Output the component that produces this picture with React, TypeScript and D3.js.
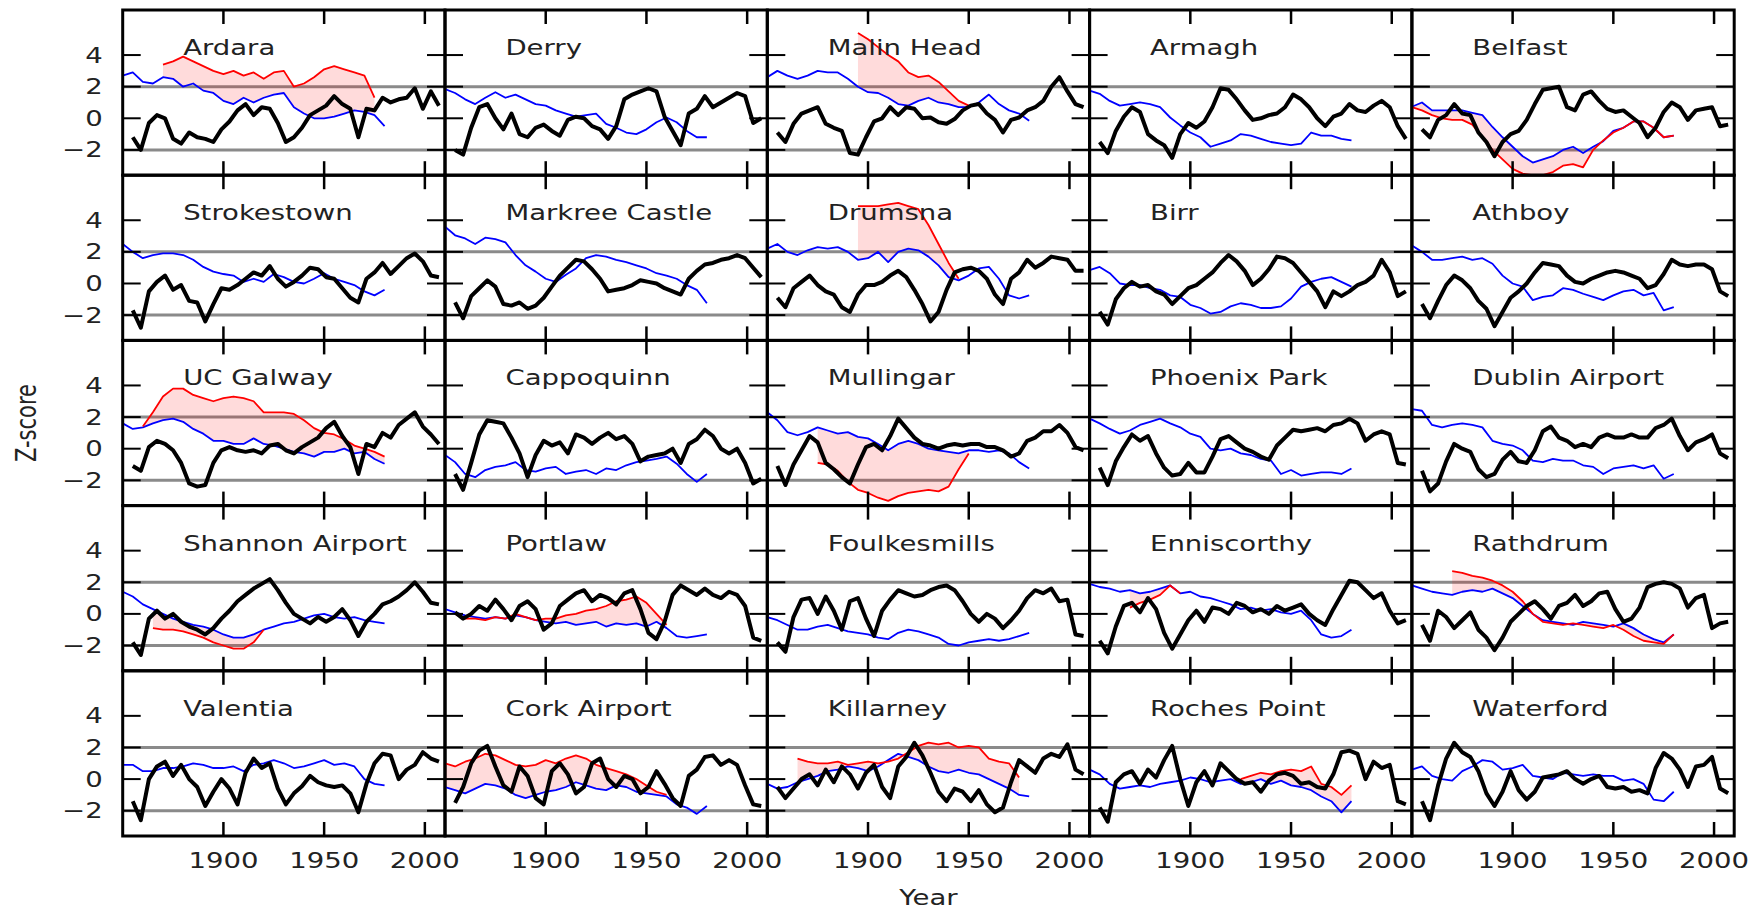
import React from "react";
import * as d3 from "d3";

// ---- layout constants ----
const W = 322.3;
const H = 165.2;
const X0 = 122.7;
const Y0 = 10;
const SX = 1.31; // horizontal text stretch seen in the reference
const FONT = "DejaVu Sans, sans-serif";

// ---- axes ----
const X_DOMAIN = [1850, 2010];
const Y_DOMAIN = [-3.6, 6.85];
const X_TICKS = [1900, 1950, 2000];
const Y_TICKS = [4, 2, 0, -2];
const GRID_LEVELS = [2, -2];

// ---- series sampling ----
const BLACK_START = 1855;
const BLACK_STEP = 4;
const BLUE_START = 1850;
const BLUE_STEP = 5;
const RED_STEP = 5;

// ---- data ----
const ardaraBlack = [-1.2, -2.0, -0.3, 0.2, 0.0, -1.3, -1.6, -0.9, -1.2, -1.3, -1.5, -0.7, -0.2, 0.5, 0.9, 0.2, 0.7, 0.6, -0.3, -1.5, -1.2, -0.6, 0.2, 0.5, 0.8, 1.4, 0.9, 0.6, -1.2, 0.6, 0.5, 1.3, 1.0, 1.2, 1.3, 1.9, 0.6, 1.7, 0.8];
const ardaraBlue = [2.7, 2.9, 2.3, 2.2, 2.6, 2.5, 2.0, 2.2, 1.75, 1.6, 1.1, 0.9, 1.3, 1.0, 1.3, 1.5, 1.6, 0.7, 0.3, 0.0, 0.0, 0.1, 0.3, 0.5, 0.4, 0.2, -0.5];
const ardaraRed = [3.4, 3.6, 3.9, 3.6, 3.3, 3.0, 2.8, 3.0, 2.7, 2.9, 2.5, 2.9, 3.0, 2.0, 2.2, 2.6, 3.1, 3.3, 3.1, 2.9, 2.7, 1.3];
const ardaraRedStart = 1870;

const derryBlack = [-2.0, -2.3, -0.6, 0.7, 0.9, 0.0, -0.7, 0.3, -1.0, -1.2, -0.6, -0.4, -0.8, -1.1, -0.1, 0.1, 0.0, -0.5, -0.7, -1.3, -0.5, 1.2, 1.5, 1.7, 1.9, 1.7, 0.1, -0.8, -1.7, 0.3, 0.6, 1.4, 0.7, 1.0, 1.3, 1.6, 1.4, -0.3, 0.0];
const derryBlue = [1.85, 1.6, 1.2, 0.9, 1.3, 1.65, 1.3, 1.5, 1.2, 0.9, 0.8, 0.5, 0.3, 0.1, 0.2, 0.3, -0.35, -0.6, -0.9, -1.0, -0.7, -0.25, 0.05, -0.25, -0.8, -1.2, -1.2];

const malinBlack = [-0.9, -1.5, -0.35, 0.3, 0.5, 0.7, -0.35, -0.6, -0.8, -2.2, -2.3, -1.2, -0.2, 0.0, 0.7, 0.2, 0.7, 0.6, 0.0, 0.05, -0.25, -0.35, -0.05, 0.5, 0.8, 0.9, 0.3, -0.1, -0.9, -0.1, 0.05, 0.5, 0.7, 1.1, 2.0, 2.6, 1.7, 0.9, 0.7];
const malinBlue = [2.6, 3.0, 2.7, 2.5, 2.7, 3.0, 2.9, 2.9, 2.5, 2.0, 1.65, 1.6, 1.3, 0.9, 0.8, 1.1, 1.3, 1.0, 0.9, 0.7, 0.7, 1.0, 1.5, 0.9, 0.5, 0.3, -0.15];
const malinRed = [5.4, 5.0, 4.5, 4.0, 3.6, 2.9, 2.6, 2.7, 2.3, 1.7, 1.1, 0.8];
const malinRedStart = 1895;

const armaghBlack = [-1.5, -2.2, -0.8, 0.1, 0.7, 0.4, -1.0, -1.4, -1.7, -2.5, -1.0, -0.3, -0.6, -0.2, 0.7, 1.9, 1.8, 1.2, 0.5, -0.1, 0.0, 0.2, 0.3, 0.7, 1.5, 1.2, 0.7, 0.0, -0.5, 0.1, 0.3, 0.9, 0.5, 0.4, 0.8, 1.1, 0.7, -0.5, -1.3];
const armaghBlue = [1.75, 1.55, 1.1, 0.8, 0.9, 1.0, 0.9, 0.7, 0.05, -0.45, -0.9, -1.2, -1.8, -1.6, -1.4, -1.0, -1.1, -1.3, -1.5, -1.6, -1.7, -1.6, -0.9, -1.1, -1.1, -1.3, -1.4];

const belfastBlack = [-0.7, -1.2, -0.1, 0.2, 0.9, 0.3, 0.2, -0.9, -1.5, -2.4, -1.5, -1.0, -0.8, -0.1, 0.9, 1.8, 1.9, 2.0, 0.7, 0.5, 1.5, 1.7, 1.1, 0.6, 0.4, 0.5, 0.1, -0.3, -1.2, -0.6, 0.4, 1.0, 0.7, -0.1, 0.5, 0.6, 0.7, -0.5, -0.4];
const belfastBlue = [0.73, 1.0, 0.5, 0.5, 0.5, 0.5, 0.35, 0.2, -0.55, -1.2, -1.8, -2.4, -2.8, -2.6, -2.4, -2.0, -1.8, -2.2, -1.8, -1.45, -0.8, -0.6, -0.2, -0.2, -0.6, -1.2, -1.1];
const belfastRed = [0.7, 0.5, 0.2, 0.0, -0.1, -0.1, -0.4, -1.2, -2.0, -2.6, -3.2, -3.5, -3.6, -3.6, -3.4, -3.0, -2.9, -3.1, -2.0, -1.4, -0.9, -0.6, -0.2, -0.2, -0.6, -1.2, -1.1];
const belfastRedStart = 1850;

const strokestownBlack = [-1.7, -2.8, -0.5, 0.1, 0.5, -0.4, -0.1, -1.1, -1.2, -2.4, -1.3, -0.3, -0.4, -0.1, 0.3, 0.7, 0.5, 1.1, 0.3, -0.2, 0.1, 0.5, 1.0, 0.9, 0.4, 0.3, -0.3, -0.9, -1.2, 0.3, 0.7, 1.3, 0.6, 1.1, 1.6, 1.9, 1.4, 0.5, 0.4];
const strokestownBlue = [2.5, 2.0, 1.6, 1.8, 1.9, 1.9, 1.8, 1.5, 1.05, 0.75, 0.6, 0.5, 0.1, 0.3, 0.1, 0.6, 0.4, 0.1, 0.0, 0.3, 0.65, 0.3, 0.1, -0.1, -0.5, -0.75, -0.4];

const markreeBlack = [-1.2, -2.2, -0.8, -0.3, 0.2, -0.2, -1.3, -1.4, -1.2, -1.6, -1.4, -0.9, -0.2, 0.5, 1.0, 1.5, 1.4, 0.9, 0.3, -0.5, -0.4, -0.3, -0.1, 0.2, 0.1, 0.0, -0.3, -0.5, -0.7, 0.3, 0.8, 1.2, 1.3, 1.5, 1.6, 1.8, 1.6, 1.0, 0.4];
const markreeBlue = [3.6, 3.05, 2.85, 2.5, 2.9, 2.8, 2.6, 1.8, 1.15, 0.75, 0.3, 0.1, 0.55, 0.95, 1.6, 1.8, 1.7, 1.5, 1.35, 1.15, 0.95, 0.65, 0.5, 0.3, -0.1, -0.4, -1.25];

const drumsnaBlack = [-0.9, -1.5, -0.3, 0.1, 0.5, -0.1, -0.5, -0.7, -1.5, -1.8, -0.7, -0.1, -0.1, 0.1, 0.5, 0.8, 0.4, -0.4, -1.3, -2.4, -1.8, -0.4, 0.7, 0.9, 1.0, 0.8, 0.3, -0.7, -1.3, 0.3, 0.7, 1.5, 1.0, 1.3, 1.7, 1.6, 1.5, 0.8, 0.8];
const drumsnaBlue = [2.2, 2.5, 2.0, 1.8, 2.1, 2.3, 2.2, 2.3, 2.0, 1.5, 1.6, 2.0, 1.35, 2.0, 2.2, 2.1, 1.7, 1.15, 0.4, 0.2, 0.5, 0.95, 1.05, 0.3, -0.75, -0.95, -0.75];
const drumsnaRed = [4.9, 4.9, 4.9, 5.0, 5.1, 4.9, 4.7, 3.7, 2.5, 1.3, 0.3];
const drumsnaRedStart = 1895;

const birrBlack = [-1.8, -2.6, -1.0, -0.3, 0.1, -0.2, -0.1, -0.5, -0.7, -1.3, -0.8, -0.3, -0.1, 0.3, 0.7, 1.3, 1.8, 1.4, 0.8, -0.1, 0.3, 0.9, 1.7, 1.6, 1.3, 0.7, 0.1, -0.5, -1.5, -0.5, -0.8, -0.5, -0.1, 0.1, 0.5, 1.5, 0.7, -0.8, -0.5];
const birrBlue = [0.85, 1.05, 0.65, 0.0, -0.1, -0.1, -0.3, -0.4, -0.75, -0.85, -1.35, -1.55, -1.9, -1.8, -1.45, -1.25, -1.35, -1.55, -1.55, -1.45, -0.95, -0.2, 0.1, 0.3, 0.4, 0.1, -0.2];

const athboyBlack = [-1.3, -2.2, -1.1, -0.1, 0.5, 0.2, -0.3, -1.1, -1.6, -2.7, -1.8, -0.9, -0.5, 0.0, 0.7, 1.3, 1.2, 1.1, 0.5, 0.1, 0.0, 0.3, 0.5, 0.7, 0.8, 0.7, 0.5, 0.3, -0.3, -0.1, 0.6, 1.5, 1.2, 1.1, 1.2, 1.2, 0.9, -0.5, -0.8];
const athboyBlue = [2.4, 2.0, 1.5, 1.5, 1.6, 1.7, 1.5, 1.6, 1.25, 0.5, 0.0, -0.2, -1.05, -0.85, -0.75, -0.3, -0.4, -0.65, -0.85, -1.05, -0.75, -0.5, -0.4, -0.75, -0.6, -1.7, -1.5];

const galwayBlack = [-1.1, -1.4, 0.1, 0.5, 0.3, -0.1, -0.9, -2.2, -2.4, -2.3, -0.9, -0.1, 0.1, -0.1, -0.2, -0.1, -0.3, 0.2, 0.3, -0.1, -0.3, 0.1, 0.4, 0.7, 1.3, 1.7, 0.8, 0.1, -1.6, 0.3, 0.1, 1.0, 0.7, 1.5, 1.9, 2.3, 1.4, 0.9, 0.3];
const galwayBlue = [1.6, 1.25, 1.35, 1.6, 1.8, 1.9, 1.7, 1.25, 0.95, 0.5, 0.5, 0.3, 0.3, 0.65, 0.3, 0.2, 0.0, -0.2, -0.3, -0.5, -0.2, -0.2, 0.0, -0.3, -0.2, -0.65, -0.95];
const galwayRed = [1.4, 2.3, 3.3, 3.8, 3.8, 3.4, 3.2, 3.0, 3.2, 3.3, 3.2, 3.0, 2.3, 2.3, 2.3, 2.2, 1.8, 1.3, 1.0, 0.9, 0.6, 0.2, 0.0, -0.2, -0.5];
const galwayRedStart = 1860;

const cappoquinnBlack = [-1.6, -2.6, -0.9, 0.9, 1.8, 1.7, 1.6, 0.7, -0.3, -1.8, -0.4, 0.5, 0.2, 0.4, -0.3, 0.9, 0.7, 0.3, 0.7, 1.0, 0.6, 0.8, 0.3, -0.8, -0.5, -0.4, -0.3, 0.0, -0.9, 0.3, 0.6, 1.2, 0.8, 0.0, -0.3, 0.0, -0.9, -2.2, -1.9];
const cappoquinnBlue = [-0.4, -0.85, -1.6, -1.8, -1.35, -1.15, -1.05, -0.85, -1.35, -1.45, -1.25, -1.15, -1.6, -1.45, -1.35, -1.6, -1.25, -1.35, -1.05, -0.85, -0.75, -0.65, -0.5, -0.95, -1.6, -2.1, -1.6];

const mullingarBlack = [-1.1, -2.3, -1.0, -0.1, 0.8, 0.4, -0.9, -1.3, -1.8, -2.2, -1.0, 0.1, 0.3, -0.1, 0.8, 1.9, 1.3, 0.7, 0.3, 0.2, 0.0, 0.2, 0.3, 0.2, 0.3, 0.3, 0.1, 0.1, -0.1, -0.5, -0.3, 0.5, 0.7, 1.1, 1.1, 1.5, 1.0, 0.1, -0.1];
const mullingarBlue = [2.3, 1.8, 1.05, 0.85, 1.05, 1.35, 1.15, 0.95, 1.05, 0.75, 0.65, 0.3, -0.1, 0.3, 0.5, 0.3, 0.0, -0.1, -0.2, -0.3, -0.1, -0.1, -0.2, -0.1, -0.3, -0.85, -1.25];
const mullingarRed = [-0.9, -1.0, -1.4, -2.1, -2.6, -2.8, -3.1, -3.3, -3.0, -2.8, -2.7, -2.6, -2.7, -2.4, -1.3, -0.3];
const mullingarRedStart = 1875;

const phoenixBlack = [-1.2, -2.3, -0.8, 0.1, 0.9, 0.5, 0.8, -0.3, -1.2, -1.7, -1.6, -0.9, -1.5, -1.5, -0.5, 0.6, 0.8, 0.4, 0.0, -0.2, -0.5, -0.7, 0.2, 0.7, 1.2, 1.1, 1.2, 1.3, 1.1, 1.5, 1.6, 1.9, 1.6, 0.5, 0.9, 1.1, 0.9, -0.9, -1.0];
const phoenixBlue = [1.9, 1.6, 1.25, 0.95, 1.15, 1.5, 1.7, 1.9, 1.6, 1.35, 0.95, 0.75, 0.0, -0.1, 0.0, -0.3, -0.4, -0.65, -0.75, -1.6, -1.35, -1.7, -1.6, -1.5, -1.5, -1.6, -1.25];

const dublinBlack = [-1.4, -2.7, -2.2, -0.8, 0.3, 0.0, -0.2, -1.3, -1.8, -1.6, -0.7, -0.2, -0.8, -0.9, -0.1, 1.1, 1.4, 0.7, 0.5, 0.1, 0.3, 0.1, 0.7, 0.9, 0.7, 0.7, 0.9, 0.7, 0.7, 1.3, 1.5, 1.9, 0.8, -0.1, 0.4, 0.6, 0.9, -0.3, -0.6];
const dublinBlue = [2.5, 2.4, 1.5, 1.35, 1.5, 1.6, 1.5, 1.35, 0.5, 0.3, 0.2, -0.1, -0.75, -0.85, -0.65, -0.75, -0.75, -1.05, -1.15, -1.6, -1.25, -1.15, -1.05, -1.25, -1.05, -1.9, -1.6];

const shannonBlack = [-1.8, -2.6, -0.3, 0.2, -0.3, 0.0, -0.5, -0.8, -1.0, -1.3, -0.9, -0.3, 0.2, 0.8, 1.2, 1.6, 1.9, 2.2, 1.5, 0.7, 0.0, -0.3, -0.6, -0.2, -0.5, -0.2, 0.3, -0.4, -1.4, -0.5, 0.0, 0.6, 0.8, 1.1, 1.5, 2.0, 1.4, 0.7, 0.6];
const shannonBlue = [1.4, 1.1, 0.6, 0.3, 0.0, -0.3, -0.5, -0.7, -0.8, -1.0, -1.3, -1.5, -1.5, -1.3, -1.0, -0.8, -0.6, -0.5, -0.3, -0.1, 0.0, -0.2, -0.3, -0.2, -0.4, -0.5, -0.6];
const shannonRed = [-0.9, -1.0, -1.0, -1.1, -1.3, -1.5, -1.8, -2.0, -2.2, -2.2, -1.8, -1.0];
const shannonRedStart = 1865;

const portlawBlack = [0.1, -0.3, 0.0, 0.5, 0.2, 0.9, 0.3, -0.4, 0.5, 0.8, 0.3, -1.0, -0.6, 0.5, 0.9, 1.3, 1.5, 0.8, 1.2, 1.0, 0.6, 1.3, 1.5, 0.3, -1.2, -1.6, -0.5, 1.2, 1.8, 1.5, 1.2, 1.6, 1.2, 1.0, 1.4, 1.2, 0.5, -1.5, -1.7];
const portlawBlue = [0.3, 0.1, -0.1, -0.2, -0.3, -0.2, -0.3, -0.1, -0.2, -0.4, -0.5, -0.6, -0.5, -0.7, -0.6, -0.5, -0.8, -0.6, -0.7, -0.6, -0.8, -0.5, -0.9, -1.4, -1.5, -1.4, -1.3];
const portlawRed = [0.0, -0.3, -0.3, -0.4, -0.2, -0.3, 0.0, -0.2, -0.4, -0.3, -0.3, -0.1, 0.0, 0.2, 0.3, 0.5, 0.8, 0.9, 1.1, 0.7, 0.0, -0.7];
const portlawRedStart = 1855;

const foulkesBlack = [-1.8, -2.4, -0.2, 0.9, 1.0, 0.0, 1.1, 0.2, -1.0, 0.8, 1.0, -0.3, -1.4, 0.2, 0.9, 1.5, 1.3, 1.1, 1.2, 1.5, 1.7, 1.8, 1.5, 0.8, 0.0, -0.5, 0.0, -0.3, -0.9, -0.4, 0.2, 1.0, 1.5, 1.3, 1.6, 0.8, 0.9, -1.3, -1.4];
const foulkesBlue = [-0.2, -0.4, -0.7, -1.0, -1.0, -0.8, -0.7, -0.9, -1.1, -1.2, -1.3, -1.5, -1.6, -1.2, -1.0, -1.1, -1.3, -1.5, -1.9, -2.0, -1.8, -1.7, -1.6, -1.7, -1.6, -1.4, -1.2];

const enniscorthyBlack = [-1.7, -2.5, -0.8, 0.5, 0.7, 0.1, 1.0, 0.3, -1.2, -2.2, -1.3, -0.4, 0.2, -0.5, 0.4, 0.3, 0.0, 0.7, 0.5, 0.1, 0.3, 0.0, 0.5, 0.2, 0.4, 0.6, 0.0, -0.4, -0.7, 0.3, 1.2, 2.1, 2.0, 1.5, 1.0, 1.3, 0.2, -0.6, -0.4];
const enniscorthyBlue = [1.9, 1.7, 1.6, 1.4, 1.5, 1.3, 1.4, 1.6, 1.8, 1.3, 1.4, 1.1, 1.0, 0.8, 0.6, 0.3, 0.4, 0.2, 0.3, 0.1, 0.0, 0.2, -0.4, -1.3, -1.5, -1.4, -1.0];
const enniscorthyRed = [0.4, 0.7, 0.9, 1.2, 1.8, 1.3];
const enniscorthyRedStart = 1870;

const rathdrumBlack = [-0.7, -1.7, 0.2, -0.2, -0.9, -0.4, 0.1, -1.0, -1.5, -2.3, -1.5, -0.5, 0.0, 0.5, 0.8, 0.3, -0.3, 0.5, 0.7, 1.2, 0.5, 0.8, 1.3, 1.4, 0.3, -0.5, -0.3, 0.4, 1.7, 1.9, 2.0, 1.9, 1.6, 0.4, 1.0, 1.2, -0.9, -0.6, -0.5];
const rathdrumBlue = [1.8, 1.6, 1.4, 1.3, 1.2, 1.4, 1.5, 1.4, 1.6, 1.3, 1.0, 0.5, 0.0, -0.4, -0.5, -0.6, -0.7, -0.5, -0.6, -0.7, -0.8, -0.6, -0.9, -1.3, -1.6, -1.8, -1.3];
const rathdrumRed = [2.7, 2.6, 2.4, 2.3, 2.1, 1.8, 1.4, 0.8, 0.0, -0.5, -0.6, -0.7, -0.6, -0.7, -0.8, -0.9, -0.7, -1.0, -1.4, -1.7, -1.8, -1.9, -1.3];
const rathdrumRedStart = 1870;

const valentiaBlack = [-1.4, -2.6, 0.0, 0.8, 1.1, 0.2, 0.9, 0.0, -0.5, -1.7, -0.8, 0.0, -0.6, -1.6, 0.4, 1.3, 0.7, 1.0, -0.6, -1.6, -0.9, -0.45, 0.2, -0.2, -0.4, -0.5, -0.4, -0.9, -2.1, -0.3, 1.0, 1.6, 1.5, 0.0, 0.6, 0.9, 1.7, 1.3, 1.1];
const valentiaBlue = [0.9, 0.9, 0.5, 0.5, 0.7, 0.7, 0.8, 1.0, 0.9, 0.7, 0.7, 0.8, 0.5, 0.9, 1.0, 1.2, 1.0, 0.7, 0.8, 1.0, 1.2, 0.9, 1.0, 0.8, 0.0, -0.3, -0.4];

const corkBlack = [-1.5, -0.5, 1.0, 1.8, 2.1, 0.8, -0.4, -0.8, 0.8, 0.2, -1.2, -1.6, 0.5, 1.0, 0.3, -0.9, -0.5, 1.0, 1.3, 0.0, -0.5, 0.2, 0.0, -0.9, -0.5, 0.5, -0.3, -1.2, -1.7, 0.2, 0.6, 1.4, 1.5, 0.9, 1.2, 0.9, -0.4, -1.6, -1.7];
const corkBlue = [-0.5, -0.7, -0.9, -0.6, -0.3, -0.4, -0.6, -1.0, -1.2, -1.0, -0.8, -0.7, -0.5, -0.2, -0.4, -0.6, -0.7, -0.4, -0.5, -0.8, -0.9, -1.0, -1.1, -1.6, -1.8, -2.2, -1.7];
const corkRed = [1.0, 0.8, 1.1, 1.3, 1.6, 1.5, 1.2, 0.9, 0.8, 0.9, 1.2, 1.0, 1.3, 1.5, 1.3, 0.9, 0.7, 0.5, 0.3, 0.0, -0.4, -0.8, -1.0];
const corkRedStart = 1850;

const killarneyBlack = [-0.5, -1.2, -0.6, 0.0, 0.3, -0.4, 0.6, -0.2, 0.8, 0.3, -0.6, 0.4, 0.9, -0.5, -1.2, 0.8, 1.4, 2.3, 1.5, 0.4, -0.8, -1.4, -0.6, -0.8, -1.4, -0.7, -1.6, -2.1, -1.8, -0.2, 1.2, 0.8, 0.4, 1.3, 1.6, 1.4, 2.2, 0.6, 0.3];
const killarneyBlue = [-0.3, -0.6, -0.5, -0.2, 0.0, 0.2, 0.5, 0.6, 0.8, 0.7, 0.5, 0.8, 1.2, 1.6, 1.4, 1.2, 0.8, 0.5, 0.4, 0.6, 0.4, 0.3, 0.0, -0.3, -0.6, -1.0, -1.1];
const killarneyRed = [1.3, 1.1, 1.0, 1.0, 1.1, 0.9, 1.0, 1.1, 1.0, 1.1, 1.3, 1.7, 2.1, 2.3, 2.2, 2.3, 2.0, 2.1, 2.0, 1.3, 1.1, 1.0, 0.1];
const killarneyRedStart = 1865;

const rochesBlack = [-1.8, -2.7, -0.2, 0.3, 0.5, -0.3, 0.6, 0.1, 1.2, 2.1, 0.0, -1.7, -0.2, 0.5, -0.4, 1.0, 0.5, 0.0, -0.3, -0.2, -0.8, -0.1, 0.3, 0.4, 0.2, -0.3, -0.2, -0.5, -0.6, 0.3, 1.7, 1.8, 1.6, 0.0, 1.1, 0.7, 0.9, -1.4, -1.6];
const rochesBlue = [0.6, 0.3, -0.3, -0.6, -0.5, -0.4, -0.5, -0.3, -0.2, -0.1, 0.1, 0.0, -0.2, -0.1, 0.0, -0.3, -0.2, 0.0, -0.3, -0.1, -0.4, -0.5, -0.7, -1.1, -1.4, -2.1, -1.4];
const rochesRed = [0.0, 0.2, 0.4, 0.3, 0.5, 0.6, 0.5, 0.8, -0.3, -0.5, -1.0, -0.4];
const rochesRedStart = 1925;

const waterfordBlack = [-1.4, -2.6, -0.4, 1.3, 2.3, 1.7, 1.4, 0.5, -0.9, -1.7, -0.8, 0.5, -0.7, -1.3, -0.8, 0.1, 0.2, 0.3, 0.5, 0.0, -0.3, 0.0, 0.2, -0.5, -0.6, -0.5, -0.8, -0.7, -0.9, 0.7, 1.65, 1.3, 0.6, -0.5, 0.8, 0.9, 1.4, -0.6, -0.9];
const waterfordBlue = [0.6, 0.8, 0.2, 0.0, -0.1, 0.5, 0.8, 1.2, 1.1, 0.6, 0.7, 0.9, 0.2, 0.1, 0.0, 0.4, 0.3, 0.2, 0.3, 0.2, 0.2, -0.1, 0.0, -0.3, -1.3, -1.4, -0.8];

type Panel = { name: string; black: number[]; blue: number[]; red?: number[]; redStart?: number };

const PANELS: Panel[] = [
  { name: "Ardara", black: ardaraBlack, blue: ardaraBlue, red: ardaraRed, redStart: ardaraRedStart },
  { name: "Derry", black: derryBlack, blue: derryBlue },
  { name: "Malin Head", black: malinBlack, blue: malinBlue, red: malinRed, redStart: malinRedStart },
  { name: "Armagh", black: armaghBlack, blue: armaghBlue },
  { name: "Belfast", black: belfastBlack, blue: belfastBlue, red: belfastRed, redStart: belfastRedStart },
  { name: "Strokestown", black: strokestownBlack, blue: strokestownBlue },
  { name: "Markree Castle", black: markreeBlack, blue: markreeBlue },
  { name: "Drumsna", black: drumsnaBlack, blue: drumsnaBlue, red: drumsnaRed, redStart: drumsnaRedStart },
  { name: "Birr", black: birrBlack, blue: birrBlue },
  { name: "Athboy", black: athboyBlack, blue: athboyBlue },
  { name: "UC Galway", black: galwayBlack, blue: galwayBlue, red: galwayRed, redStart: galwayRedStart },
  { name: "Cappoquinn", black: cappoquinnBlack, blue: cappoquinnBlue },
  { name: "Mullingar", black: mullingarBlack, blue: mullingarBlue, red: mullingarRed, redStart: mullingarRedStart },
  { name: "Phoenix Park", black: phoenixBlack, blue: phoenixBlue },
  { name: "Dublin Airport", black: dublinBlack, blue: dublinBlue },
  { name: "Shannon Airport", black: shannonBlack, blue: shannonBlue, red: shannonRed, redStart: shannonRedStart },
  { name: "Portlaw", black: portlawBlack, blue: portlawBlue, red: portlawRed, redStart: portlawRedStart },
  { name: "Foulkesmills", black: foulkesBlack, blue: foulkesBlue },
  { name: "Enniscorthy", black: enniscorthyBlack, blue: enniscorthyBlue, red: enniscorthyRed, redStart: enniscorthyRedStart },
  { name: "Rathdrum", black: rathdrumBlack, blue: rathdrumBlue, red: rathdrumRed, redStart: rathdrumRedStart },
  { name: "Valentia", black: valentiaBlack, blue: valentiaBlue },
  { name: "Cork Airport", black: corkBlack, blue: corkBlue, red: corkRed, redStart: corkRedStart },
  { name: "Killarney", black: killarneyBlack, blue: killarneyBlue, red: killarneyRed, redStart: killarneyRedStart },
  { name: "Roches Point", black: rochesBlack, blue: rochesBlue, red: rochesRed, redStart: rochesRedStart },
  { name: "Waterford", black: waterfordBlack, blue: waterfordBlue },
];

const NCOL = 5;

const x = d3.scaleLinear().domain(X_DOMAIN).range([0, W]);
const y = d3.scaleLinear().domain(Y_DOMAIN).range([H, 0]);

const line = d3
  .line<[number, number]>()
  .x((d) => x(d[0]))
  .y((d) => y(d[1]));

const area = d3
  .area<[number, number, number]>()
  .x((d) => x(d[0]))
  .y0((d) => y(d[1]))
  .y1((d) => y(d[2]));

function PanelView({ p, idx }: { p: Panel; idx: number }) {
  const r = Math.floor(idx / NCOL);
  const c = idx % NCOL;
  const left = X0 + c * W;
  const top = Y0 + r * H;
  const blackPts: [number, number][] = p.black.map((v, i) => [BLACK_START + i * BLACK_STEP, v]);
  const bluePts: [number, number][] = p.blue.map((v, i) => [BLUE_START + i * BLUE_STEP, v]);
  let redPts: [number, number][] = [];
  let fillPts: [number, number, number][] = [];
  if (p.red && p.redStart !== undefined) {
    redPts = p.red.map((v, i) => [p.redStart! + i * RED_STEP, v]);
    fillPts = redPts.map(([yr, v]) => {
      const bi = Math.round((yr - BLUE_START) / BLUE_STEP);
      return [yr, p.blue[bi], v];
    });
  }
  const clipId = `clip-${idx}`;
  return (
    <g transform={`translate(${left},${top})`}>
      <defs>
        <clipPath id={clipId}>
          <rect x={0} y={0} width={W} height={H} />
        </clipPath>
      </defs>
      <g clipPath={`url(#${clipId})`}>
        {GRID_LEVELS.map((g) => (
          <line key={g} x1={0} x2={W} y1={y(g)} y2={y(g)} stroke="#8a8a8a" strokeWidth={3} />
        ))}
        {fillPts.length > 0 && <path d={area(fillPts) || ""} fill="#ff0000" fillOpacity={0.14} stroke="none" />}
        <path d={line(bluePts) || ""} fill="none" stroke="#0000ff" strokeWidth={1.8} strokeLinejoin="round" />
        {redPts.length > 0 && (
          <path d={line(redPts) || ""} fill="none" stroke="#ff0000" strokeWidth={1.8} strokeLinejoin="round" />
        )}
        <path d={line(blackPts) || ""} fill="none" stroke="#000000" strokeWidth={4} strokeLinejoin="round" />
      </g>
      {/* ticks */}
      {X_TICKS.map((t) => (
        <g key={`xt${t}`}>
          <line x1={x(t)} x2={x(t)} y1={0} y2={14} stroke="#000" strokeWidth={2.5} />
          <line x1={x(t)} x2={x(t)} y1={H} y2={H - 14} stroke="#000" strokeWidth={2.5} />
        </g>
      ))}
      {Y_TICKS.map((t) => (
        <g key={`yt${t}`}>
          <line x1={0} x2={18} y1={y(t)} y2={y(t)} stroke="#000" strokeWidth={2} />
          <line x1={W} x2={W - 18} y1={y(t)} y2={y(t)} stroke="#000" strokeWidth={2} />
        </g>
      ))}
      <rect x={0} y={0} width={W} height={H} fill="none" stroke="#000" strokeWidth={3} />
      <text
        transform={`translate(${x(1880)},${y(4)}) scale(${SX},1)`}
        fontFamily={FONT}
        fontSize={21}
        fill="#222"
      >
        {p.name}
      </text>
      {c === 0 &&
        Y_TICKS.map((t) => (
          <text
            key={`yl${t}`}
            transform={`translate(${-20},${y(t)}) scale(${SX},1)`}
            textAnchor="end"
            dy="0.36em"
            fontFamily={FONT}
            fontSize={21}
            fill="#222"
          >
            {t < 0 ? `\u2212${Math.abs(t)}` : `${t}`}
          </text>
        ))}
      {r === 4 &&
        X_TICKS.map((t) => (
          <text
            key={`xl${t}`}
            transform={`translate(${x(t)},${H + 32}) scale(${SX},1)`}
            textAnchor="middle"
            fontFamily={FONT}
            fontSize={21}
            fill="#222"
          >
            {t}
          </text>
        ))}
    </g>
  );
}

export default function App() {
  const totalW = W * NCOL;
  const totalH = H * 5;
  return (
    <svg
      width={1760}
      height={910}
      style={{ position: "absolute", left: 0, top: 0, display: "block", background: "#fff" }}
    >
      <rect x={0} y={0} width={1760} height={910} fill="#fff" />
      {PANELS.map((p, i) => (
        <PanelView key={p.name} p={p} idx={i} />
      ))}
      <text
        transform={`translate(${36},${Y0 + totalH / 2}) scale(${SX},1) rotate(-90)`}
        textAnchor="middle"
        fontFamily={FONT}
        fontSize={21}
        fill="#222"
      >
        Z-score
      </text>
      <text
        transform={`translate(${X0 + totalW / 2},${905}) scale(${SX},1)`}
        textAnchor="middle"
        fontFamily={FONT}
        fontSize={21}
        fill="#222"
      >
        Year
      </text>
    </svg>
  );
}
